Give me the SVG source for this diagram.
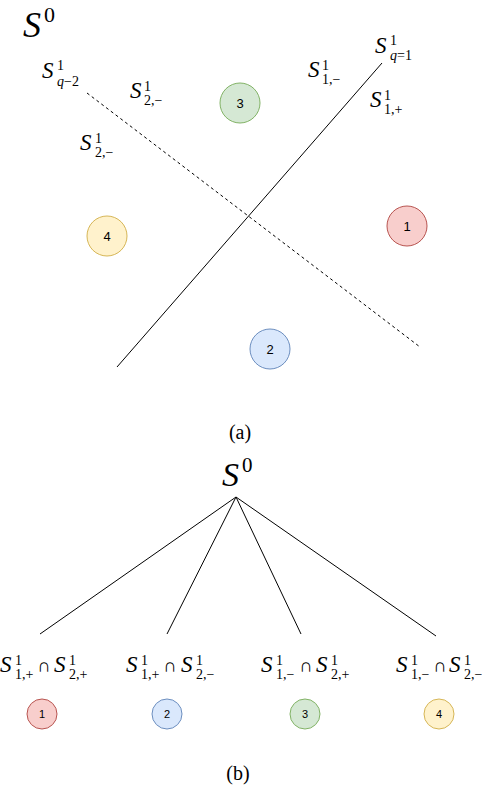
<svg xmlns="http://www.w3.org/2000/svg" width="482" height="788" viewBox="0 0 482 788">
<style>
.t{font-family:"Liberation Serif",serif;fill:#000;font-size:14px}
.S{font-style:italic;font-size:23px}
.i{font-style:italic}
.cap{font-family:"Liberation Serif",serif;fill:#000;font-size:20px;text-anchor:middle}
.num{font-family:"Liberation Sans",Arial,sans-serif;font-size:13px;text-anchor:middle;fill:#000}
.c1{fill:#f8cecc;stroke:#b85450}
.c2{fill:#dae8fc;stroke:#6c8ebf}
.c3{fill:#d5e8d4;stroke:#82b366}
.c4{fill:#fff2cc;stroke:#d6b656}
.ln{stroke:#000;stroke-width:1;fill:none}
</style>
<rect width="482" height="788" fill="#fff"/>
<g id="connectors">
<line class="ln" x1="87" y1="93" x2="420" y2="347" stroke-dasharray="3 3"/>
<line class="ln" x1="117" y1="367" x2="382" y2="63"/>
<line class="ln" x1="236" y1="497" x2="40" y2="634"/>
<line class="ln" x1="236" y1="497" x2="167" y2="634"/>
<line class="ln" x1="236" y1="497" x2="301" y2="634"/>
<line class="ln" x1="236" y1="497" x2="436" y2="636"/>
</g>
<g id="title-a">
<text class="t"><tspan class="S" x="23" y="37" style="font-size:36px">S</tspan><tspan x="44" y="22" style="font-size:22px">0</tspan></text>
</g>
<g id="label-q2">
<text class="t"><tspan class="S" x="42" y="78">S</tspan><tspan x="57" y="70">1</tspan><tspan class="i" x="57" y="86">q</tspan><tspan>−2</tspan></text>
</g>
<g id="label-q1">
<text class="t"><tspan class="S" x="375" y="53">S</tspan><tspan x="390" y="45">1</tspan><tspan class="i" x="390" y="60">q</tspan><tspan>=1</tspan></text>
</g>
<g id="label-2m-a">
<text class="t"><tspan class="S" x="130" y="98">S</tspan><tspan x="144" y="91">1</tspan><tspan x="144" y="105">2,−</tspan></text>
</g>
<g id="label-2m-b">
<text class="t"><tspan class="S" x="80" y="150">S</tspan><tspan x="95" y="143">1</tspan><tspan x="95" y="157">2,−</tspan></text>
</g>
<g id="label-1m">
<text class="t"><tspan class="S" x="308" y="77">S</tspan><tspan x="322" y="70">1</tspan><tspan x="322" y="84">1,−</tspan></text>
</g>
<g id="label-1p">
<text class="t"><tspan class="S" x="370" y="107">S</tspan><tspan x="384" y="100">1</tspan><tspan x="384" y="114">1,+</tspan></text>
</g>
<g id="a1"><circle class="c1" cx="407" cy="226" r="20"/><text class="num" x="407" y="231">1</text></g>
<g id="a2"><circle class="c2" cx="270" cy="349" r="20"/><text class="num" x="270" y="354">2</text></g>
<g id="a3"><circle class="c3" cx="240" cy="103" r="20"/><text class="num" x="240" y="108">3</text></g>
<g id="a4"><circle class="c4" cx="107" cy="236" r="20"/><text class="num" x="107" y="241">4</text></g>
<g id="cap-a"><text class="cap" x="240" y="439">(a)</text></g>
<g id="root-b">
<text class="t"><tspan class="S" x="222" y="486" style="font-size:34px">S</tspan><tspan x="242" y="472" style="font-size:21px">0</tspan></text>
</g>
<g id="b-label-1">
<text class="t"><tspan class="S" x="0" y="672">S</tspan><tspan x="15" y="665">1</tspan><tspan x="15" y="679">1,+</tspan><tspan x="37" y="672" style="font-size:19px">∩</tspan><tspan class="S" x="54" y="672">S</tspan><tspan x="69" y="665">1</tspan><tspan x="69" y="679">2,+</tspan></text>
</g>
<g id="b-label-2">
<text class="t"><tspan class="S" x="126" y="672">S</tspan><tspan x="141" y="665">1</tspan><tspan x="141" y="679">1,+</tspan><tspan x="163" y="672" style="font-size:19px">∩</tspan><tspan class="S" x="181" y="672">S</tspan><tspan x="196" y="665">1</tspan><tspan x="196" y="679">2,−</tspan></text>
</g>
<g id="b-label-3">
<text class="t"><tspan class="S" x="261" y="672">S</tspan><tspan x="276" y="665">1</tspan><tspan x="276" y="679">1,−</tspan><tspan x="299" y="672" style="font-size:19px">∩</tspan><tspan class="S" x="316" y="672">S</tspan><tspan x="331" y="665">1</tspan><tspan x="331" y="679">2,+</tspan></text>
</g>
<g id="b-label-4">
<text class="t"><tspan class="S" x="396" y="672">S</tspan><tspan x="411" y="665">1</tspan><tspan x="411" y="679">1,−</tspan><tspan x="433" y="672" style="font-size:19px">∩</tspan><tspan class="S" x="449" y="672">S</tspan><tspan x="464" y="665">1</tspan><tspan x="464" y="679">2,−</tspan></text>
</g>
<g id="b1"><circle class="c1" cx="42" cy="714" r="15"/><text class="num" x="42" y="718" style="font-size:11px">1</text></g>
<g id="b2"><circle class="c2" cx="167" cy="714" r="15"/><text class="num" x="167" y="718" style="font-size:11px">2</text></g>
<g id="b3"><circle class="c3" cx="305" cy="714" r="15"/><text class="num" x="305" y="718" style="font-size:11px">3</text></g>
<g id="b4"><circle class="c4" cx="439" cy="714" r="15"/><text class="num" x="439" y="718" style="font-size:11px">4</text></g>
<g id="cap-b"><text class="cap" x="238" y="780">(b)</text></g>
</svg>
